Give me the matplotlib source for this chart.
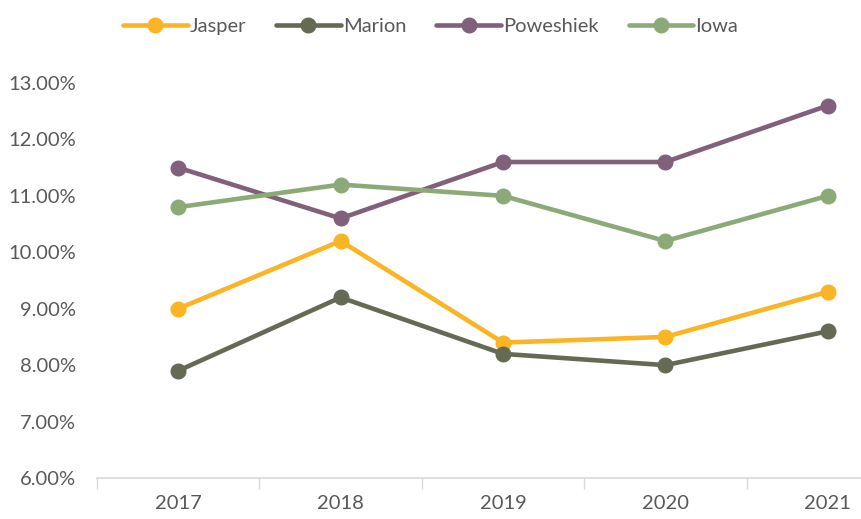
import numpy as np
import matplotlib.pyplot as plt

years = ['2017', '2018', '2019', '2020', '2021']
jasper = [9.0, 10.2, 8.4, 8.5, 9.3]
marion = [7.9, 9.2, 8.2, 8.0, 8.6]
poweshiek = [11.5, 10.6, 11.6, 11.6, 12.6]
iowa = [10.8, 11.2, 11.0, 10.2, 11.0]

series = [
  ('Jasper', jasper, '#FBB424'),
  ('Marion', marion, '#646A54'),
  ('Poweshiek', poweshiek, '#80607A'),
  ('Iowa', iowa, '#8CAA78'),
]

plt.rcParams['font.family'] = ['Lato', 'DejaVu Sans']
text_color = '#595959'

fig = plt.figure(figsize=(8.61, 5.19), dpi=100)
ax = fig.add_axes([97 / 861, 41 / 519, 812 / 861, 395 / 519])

x = np.arange(len(years))
for name, vals, col in series:
  ax.plot(x, vals, color=col, lw=3.3, marker='o', ms=10.5, label=name,
          solid_capstyle='round')

ax.set_xlim(-0.5, len(years) - 0.5)
ax.set_ylim(6, 13)
ax.set_yticks(np.arange(6, 13.01, 1))
ax.set_yticklabels(['%.2f%%' % v for v in np.arange(6, 13.01, 1)])
ax.set_xticks(x)
ax.set_xticklabels(years)
ax.set_xticks(np.arange(-0.5, len(years), 1), minor=True)
ax.tick_params(axis='x', which='major', length=0, pad=12)
ax.tick_params(axis='x', which='minor', length=8, color='#D9D9D9', width=1)
ax.tick_params(axis='y', length=0, pad=15)
ax.tick_params(labelsize=14.5, labelcolor=text_color)

for s in ['top', 'right', 'left']:
  ax.spines[s].set_visible(False)
ax.spines['bottom'].set_color('#D9D9D9')
ax.spines['bottom'].set_linewidth(1.2)

leg = fig.legend(loc='upper center', bbox_to_anchor=(0.5, 1.0), ncol=4,
                 frameon=False, fontsize=14.5, handlelength=3.2,
                 handletextpad=0.1, columnspacing=1.5)
for t in leg.get_texts():
  t.set_color(text_color)

fig.savefig('out.png', dpi=100)
